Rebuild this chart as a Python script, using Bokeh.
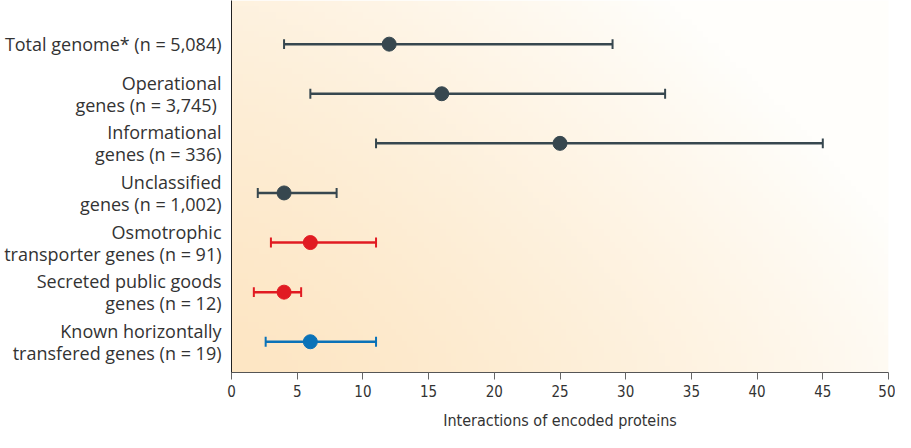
import numpy as np
from bokeh.plotting import figure
from bokeh.models import Range1d, ColumnDataSource, FixedTicker
from bokeh.embed import file_html
from bokeh.resources import INLINE

# ---- data ----
label_lines = [
    ["Total genome* (n = 5,084)"],
    ["Operational", "genes  (n = 3,745)"],
    ["Informational", "genes (n = 336)"],
    ["Unclassified", "genes (n = 1,002)"],
    ["Osmotrophic", "transporter genes (n = 91)"],
    ["Secreted public goods", "genes (n = 12)"],
    ["Known horizontally", "transfered genes (n = 19)"],
]
medians = [12, 16, 25, 4, 6, 4, 6]
lows = [4, 6, 11, 2, 3, 1.7, 2.6]
highs = [29, 33, 45, 8, 11, 5.3, 11]
groups = ["core", "core", "core", "core", "social", "social", "hgt"]
xticks = [0, 5, 10, 15, 20, 25, 30, 35, 40, 45, 50]

palette = {"core": "#37474f", "social": "#e11b22", "hgt": "#0a72b8"}
n = len(label_lines)
ypos = [n - i for i in range(n)]
colors = [palette[g] for g in groups]
cap = 0.1
src = ColumnDataSource(dict(y=ypos, med=medians, lo=lows, hi=highs, color=colors,
                            y0=[v - cap for v in ypos], y1=[v + cap for v in ypos]))

# y tick positions for each text line (two-line labels straddle the row)
half_gap = 0.222
ytick_vals = []
ytick_text = {}
for y, lines in zip(ypos, label_lines):
    if len(lines) == 1:
        offs = [0.0]
    else:
        offs = [half_gap, -half_gap]
    for o, t in zip(offs, lines):
        v = round(y + o, 3)
        ytick_vals.append(v)
        ytick_text[v] = t

W, H = 895, 432
p = figure(width=W, height=H, output_backend="svg", toolbar_location=None,
           x_range=Range1d(0, 50), y_range=Range1d(0.38, 7.88),
           min_border_left=231, min_border_right=7, min_border_top=0,
           min_border_bottom=60)
p.outline_line_color = None
p.grid.visible = False
p.background_fill_color = "white"

# background gradient (peach at left/bottom fading to white at top-right)
ny, nx = 60, 120
xs = np.linspace(0, 1, nx)
ys = np.linspace(0, 1, ny)
XX, YY = np.meshgrid(xs, ys)
f = np.clip(0.85 * XX ** 1.3 + 0.5 * YY ** 1.3, 0, 1)
c0 = np.array([253, 230, 196])
c1 = np.array([255, 254, 251])
img = np.empty((ny, nx), dtype=np.uint32)
view = img.view(dtype=np.uint8).reshape((ny, nx, 4))
for k in range(3):
    view[:, :, k] = (c0[k] + (c1[k] - c0[k]) * f).astype(np.uint8)
view[:, :, 3] = 255
p.image_rgba(image=[img], x=0, y=0.38, dw=50, dh=7.5)

# error bars
p.segment(x0="lo", y0="y", x1="hi", y1="y", source=src, line_color="color", line_width=2.5)
p.segment(x0="lo", y0="y0", x1="lo", y1="y1", source=src, line_color="color", line_width=2)
p.segment(x0="hi", y0="y0", x1="hi", y1="y1", source=src, line_color="color", line_width=2)
p.scatter(x="med", y="y", source=src, size=14, fill_color="color", line_color="color")

# x axis
p.xaxis.ticker = FixedTicker(ticks=xticks)
p.xaxis.major_tick_in = 0
p.xaxis.major_tick_out = 7
p.xaxis.minor_tick_line_color = None
p.xaxis.axis_line_color = "#555555"
p.xaxis.major_tick_line_color = "#666666"
p.xaxis.major_label_text_font = "DejaVu Sans Condensed"
p.xaxis.major_label_text_font_size = "15px"
p.xaxis.major_label_text_color = "#333333"
p.xaxis.major_label_standoff = 5
p.xaxis.axis_label = "Interactions of encoded proteins"
p.xaxis.axis_label_text_font = "DejaVu Sans Condensed"
p.xaxis.axis_label_text_font_style = "normal"
p.xaxis.axis_label_text_font_size = "16px"
p.xaxis.axis_label_text_color = "#333333"
p.xaxis.axis_label_standoff = 11

# y axis: line + category labels
p.yaxis.ticker = FixedTicker(ticks=ytick_vals)
p.yaxis.major_label_overrides = ytick_text
p.yaxis.major_tick_line_color = None
p.yaxis.minor_tick_line_color = None
p.yaxis.axis_line_color = "#222222"
p.yaxis.major_label_text_font = "Open Sans"
p.yaxis.major_label_text_font_size = "18px"
p.yaxis.major_label_text_color = "#333333"
p.yaxis.major_label_standoff = 4

open("out.html", "w").write(file_html(p, INLINE))
